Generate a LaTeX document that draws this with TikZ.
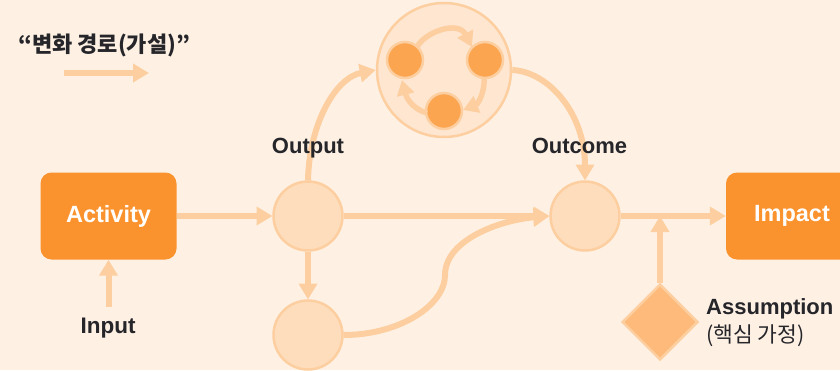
\documentclass[tikz,border=0pt]{standalone}
\usepackage{fontspec}
\setmainfont{Liberation Sans}
\newfontfamily\krfont{Noto Sans CJK KR}
\usetikzlibrary{arrows.meta,shapes.geometric}
\definecolor{bgcol}{HTML}{FEF1E4}
\definecolor{linecol}{HTML}{FDCFA0}
\definecolor{circcol}{HTML}{FEDDBD}
\definecolor{bigcol}{HTML}{FEE6D1}
\definecolor{boxcol}{HTML}{FA932E}
\definecolor{dotcol}{HTML}{FBA550}
\definecolor{diacol}{HTML}{FDBA7A}
\definecolor{inkcol}{HTML}{25252A}
\tikzset{
  flow/.style={line width=6pt, draw=linecol, -{Triangle[length=16pt,width=18pt]}},
  loopflow/.style={line width=5.5pt, draw=linecol, -{Triangle[length=15pt,width=17pt]}},
  state/.style={circle, fill=circcol, draw=linecol, line width=2.5pt, minimum size=69pt, inner sep=0pt, outer sep=1pt},
  dot/.style={circle, fill=dotcol, draw=linecol, line width=2.5pt, minimum size=36pt, inner sep=0pt},
  stage/.style={rectangle, rounded corners=11pt, fill=boxcol, minimum width=136pt, minimum height=87pt, inner sep=0pt, text=white, font=\fontsize{23.5}{27}\selectfont\bfseries},
  tag/.style={text=inkcol, inner sep=0pt, font=\fontsize{22}{26}\selectfont\bfseries}
}
\begin{document}
\begin{tikzpicture}[x=1pt,y=-1pt]
  \useasboundingbox (0,0) rectangle (840,370);
  \clip (0,0) rectangle (840,370);
  \fill[bgcol] (0,0) rectangle (840,370);

  % legend
  \node[tag, anchor=west, font=\krfont\fontsize{22}{26}\selectfont\bfseries] (legendtext) at (18,45.5) {“변화 경로(가설)”};
  \coordinate (legendA) at (64,73);
  \coordinate (legendB) at (149,73);
  \draw[flow] (legendA) -- (legendB);

  % main chain
  \node[stage] (activity) at (108.5,216) {Activity};
  \node[stage] (impact) at (794,216) {\hspace{-4pt}Impact\hspace{4pt}};
  \node[state] (output) at (308,216) {};
  \node[state] (outcome) at (585,216) {};
  \node[state] (lower) at (308,335) {};
  \node[diamond, aspect=1, fill=diacol, draw=linecol, line width=2.5pt, minimum size=76pt, inner sep=0pt] (assumption) at (660,322) {};
  \node[circle, fill=bigcol, draw=linecol, line width=2.5pt, minimum size=134pt, inner sep=0pt] (cycle) at (444,70) {};
  \coordinate (inputtip) at (108.5,307);
  \coordinate (joinpt) at (660,216);

  % connectors
  \draw[flow] (activity.east) -- (output.west);
  \draw[flow] (output.east) -- (outcome.west);
  \draw[flow] (output.south) -- (lower.north);
  \draw[flow] (outcome.east) -- (impact.west);
  \draw[flow] (assumption.north) -- (joinpt);
  \draw[flow] (inputtip) -- (activity.south);
  \draw[flow] (output.north) .. controls (309,125) and (335,78) .. (cycle.west);
  \draw[flow] (cycle.east) .. controls (550,72) and (585,115) .. (outcome.north);
  \draw[flow] (lower.east) .. controls (400,335) and (445,305) .. (445,275) .. controls (445,240) and (500,220) .. (outcome.west);

  % labels
  \node[tag] (outputtext) at (308,148) {Output};
  \node[tag] (outcometext) at (579.5,146) {Outcome};
  \node[tag, font=\fontsize{22.5}{26}\selectfont\bfseries] (inputtext) at (108,328.5) {Input};
  \node[tag, anchor=west] (assumtext) at (706,309) {Assumption};
  \node[text=inkcol, inner sep=0pt, anchor=west, font=\krfont\fontsize{21.5}{25}\selectfont] (assumsub) at (706,336) {(핵심 가정)};

  % inner cycle
  \node[dot] (dotA) at (405,60) {};
  \node[dot] (dotB) at (485,60) {};
  \node[dot] (dotC) at (444,111) {};
  \draw[loopflow] (dotA) ++(12,-13) .. controls (425,32) and (458,20) .. (472,47);
  \draw[loopflow] (dotB) ++(-1,18) .. controls (485,92) and (478,104) .. (463,110);
  \draw[loopflow] (dotC) ++(-17,2) .. controls (415,110) and (407,100) .. (402,80);
\end{tikzpicture}
\end{document}
